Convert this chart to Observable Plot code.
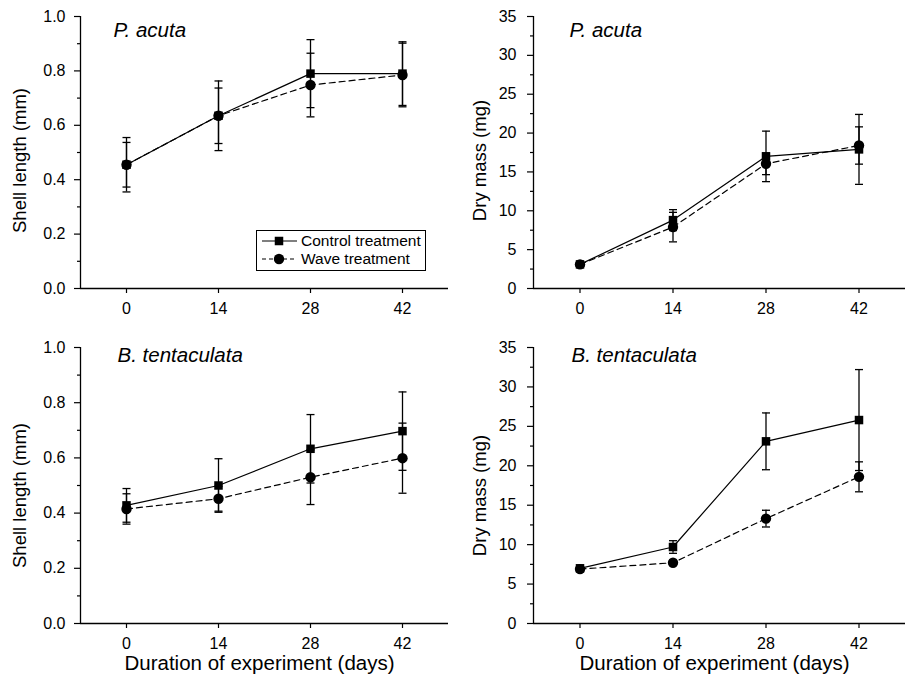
<!DOCTYPE html>
<html>
<head>
<meta charset="utf-8">
<script src="https://cdn.jsdelivr.net/npm/d3@7"></script>
<script src="https://cdn.jsdelivr.net/npm/@observablehq/plot@0.6"></script>
<style>
  body { margin: 0; background: #fff; }
  #chart { position: relative; width: 905px; height: 685px; background: #fff;
           font-family: "Liberation Sans", Arial, sans-serif; overflow: hidden; }
  .panel { position: absolute; }
  #legend { position: absolute; border: 1px solid #000; background: #fff; box-sizing: border-box; }
</style>
</head>
<body>
<div id="chart"></div>
<script>
// ---------- data ----------
const days = [0, 14, 28, 42];
const seriesLabels = ["Control treatment", "Wave treatment"];
const speciesTitles = ["P. acuta", "B. tentaculata"];
const yLabels = ["Shell length (mm)", "Dry mass (mg)"];
const xLabel = "Duration of experiment (days)";

// P. acuta – shell length (mm)
const paShellControl   = [0.455, 0.635, 0.790, 0.790];
const paShellControlSE = [0.100, 0.128, 0.125, 0.117];
const paShellWave      = [0.455, 0.635, 0.748, 0.785];
const paShellWaveSE    = [0.082, 0.102, 0.117, 0.117];

// P. acuta – dry mass (mg)
const paMassControl    = [3.1, 8.8, 17.0, 17.9];
const paMassControlSE  = [0.3, 1.35, 3.25, 4.5];
const paMassWave       = [3.1, 7.9, 16.05, 18.4];
const paMassWaveSE     = [0.3, 1.9, 1.4, 2.4];

// B. tentaculata – shell length (mm)
const btShellControl   = [0.428, 0.500, 0.633, 0.697];
const btShellControlSE = [0.061, 0.097, 0.124, 0.142];
const btShellWave      = [0.415, 0.452, 0.530, 0.599];
const btShellWaveSE    = [0.055, 0.045, 0.099, 0.127];

// B. tentaculata – dry mass (mg)
const btMassControl    = [7.0, 9.7, 23.1, 25.8];
const btMassControlSE  = [0.35, 0.8, 3.6, 6.4];
const btMassWave       = [6.9, 7.7, 13.3, 18.6];
const btMassWaveSE     = [0.3, 0.3, 1.06, 1.9];

// axis ticks
const xDomain = [-7, 49];
const shellMajor = [0, 0.2, 0.4, 0.6, 0.8, 1.0];
const shellMinor = [0.1, 0.3, 0.5, 0.7, 0.9];
const massMajor = [0, 5, 10, 15, 20, 25, 30, 35];
const massMinor = [2.5, 7.5, 12.5, 17.5, 22.5, 27.5, 32.5];

// ---------- drawing ----------
const chart = document.getElementById("chart");
const capSymbol = {
  draw(ctx, size) {
    const w = Math.sqrt(size / Math.PI);
    ctx.moveTo(-w, 0);
    ctx.lineTo(w, 0);
  }
};

function rows(m, se) {
  return days.map((d, i) => ({ day: d, m: m[i], se: se[i] }));
}
function caps(data) {
  return data.flatMap(d => [{ day: d.day, y: d.m + d.se }, { day: d.day, y: d.m - d.se }]);
}

function panel(o) {
  const ctrl = rows(o.cM, o.cSE);
  const wave = rows(o.wM, o.wSE);
  const marks = [
    // error bars
    Plot.ruleX(ctrl, { x: "day", y1: d => d.m - d.se, y2: d => d.m + d.se, stroke: "#000", strokeWidth: 1.3 }),
    Plot.ruleX(wave, { x: "day", y1: d => d.m - d.se, y2: d => d.m + d.se, stroke: "#000", strokeWidth: 1.3 }),
    Plot.dot(caps(ctrl), { x: "day", y: "y", symbol: capSymbol, r: 4, stroke: "#000", fill: "none", strokeWidth: 1.3 }),
    Plot.dot(caps(wave), { x: "day", y: "y", symbol: capSymbol, r: 4, stroke: "#000", fill: "none", strokeWidth: 1.3 }),
    // lines
    Plot.line(wave, { x: "day", y: "m", stroke: "#000", strokeWidth: 1.2, strokeDasharray: "6,4" }),
    Plot.line(ctrl, { x: "day", y: "m", stroke: "#000", strokeWidth: 1.2 }),
    // markers
    Plot.dot(wave, { x: "day", y: "m", symbol: "circle", r: 5.2, fill: "#000", stroke: "none" }),
    Plot.dot(ctrl, { x: "day", y: "m", symbol: "square", r: 4.8, fill: "#000", stroke: "none" }),
    // axes
    Plot.ruleY([o.yDomain[0]], { stroke: "#000", strokeWidth: 1.3 }),
    Plot.ruleX([xDomain[0]], { stroke: "#000", strokeWidth: 1.3 }),
    Plot.axisX({ ticks: days, tickSize: 5, tickPadding: 9, tickFormat: d => String(d), label: null, strokeWidth: 1.2, fontSize: 16 }),
    Plot.axisY({ ticks: o.yMajor, tickSize: 6, tickPadding: o.yPad, tickFormat: o.yFormat, label: null, strokeWidth: 1.2, fontSize: 16 }),
    Plot.axisY({ ticks: o.yMinor, tickSize: 3, tickFormat: () => "", label: null, strokeWidth: 1.2 }),
    // panel title
    Plot.text([o.title], { text: d => d, frameAnchor: "top-left", textAnchor: "start", lineAnchor: "middle",
      dx: o.titleDx, dy: o.titleDy, fontSize: 20.5, fontStyle: "italic", fill: "#000" }),
    // y label
    Plot.text([o.yLabel], { text: d => d, frameAnchor: "left", rotate: -90, textAnchor: "middle", lineAnchor: "middle",
      dx: o.yLabelDx, dy: o.yLabelDy, fontSize: 18.5, fill: "#000" })
  ];
  if (o.showXLabel) {
    marks.push(Plot.text([xLabel], { text: d => d, frameAnchor: "bottom", textAnchor: "middle", lineAnchor: "middle",
      dx: -5, dy: 40, fontSize: 20.5, fill: "#000" }));
  }
  const svg = Plot.plot({
    width: o.width, height: o.height,
    marginLeft: o.ml, marginRight: o.mr, marginTop: o.mt, marginBottom: o.mb,
    x: { domain: xDomain, label: null },
    y: { domain: o.yDomain, label: null },
    style: { fontFamily: "'Liberation Sans', Arial, sans-serif", fontSize: "16px", color: "#000", background: "transparent", overflow: "visible" },
    marks
  });
  const wrap = document.createElement("div");
  wrap.className = "panel";
  wrap.style.left = o.left + "px";
  wrap.style.top = o.top + "px";
  wrap.appendChild(svg);
  chart.appendChild(wrap);
}

const fmt1 = d3.format(".1f");
const fmt0 = d => String(d);

panel({ left: 0, top: 0, width: 452, height: 330, ml: 80, mr: 4, mt: 16, mb: 42,
  yDomain: [0, 1], yMajor: shellMajor, yMinor: shellMinor, yFormat: fmt1, yPad: 9,
  cM: paShellControl, cSE: paShellControlSE, wM: paShellWave, wSE: paShellWaveSE,
  title: speciesTitles[0], titleDx: 33, titleDy: 14, yLabel: yLabels[0], yLabelDx: -60, yLabelDy: 8, showXLabel: false });

panel({ left: 453, top: 0, width: 452, height: 330, ml: 80, mr: 0, mt: 16, mb: 42,
  yDomain: [0, 35], yMajor: massMajor, yMinor: massMinor, yFormat: fmt0, yPad: 11,
  cM: paMassControl, cSE: paMassControlSE, wM: paMassWave, wSE: paMassWaveSE,
  title: speciesTitles[0], titleDx: 36, titleDy: 14, yLabel: yLabels[1], yLabelDx: -53, yLabelDy: 8, showXLabel: false });

panel({ left: 0, top: 330, width: 452, height: 355, ml: 80, mr: 4, mt: 17, mb: 62,
  yDomain: [0, 1], yMajor: shellMajor, yMinor: shellMinor, yFormat: fmt1, yPad: 9,
  cM: btShellControl, cSE: btShellControlSE, wM: btShellWave, wSE: btShellWaveSE,
  title: speciesTitles[1], titleDx: 37, titleDy: 8, yLabel: yLabels[0], yLabelDx: -60, yLabelDy: 10, showXLabel: true });

panel({ left: 453, top: 330, width: 452, height: 355, ml: 80, mr: 0, mt: 17, mb: 62,
  yDomain: [0, 35], yMajor: massMajor, yMinor: massMinor, yFormat: fmt0, yPad: 11,
  cM: btMassControl, cSE: btMassControlSE, wM: btMassWave, wSE: btMassWaveSE,
  title: speciesTitles[1], titleDx: 38, titleDy: 8, yLabel: yLabels[1], yLabelDx: -53, yLabelDy: 10, showXLabel: true });

// ---------- legend (top-left panel) ----------
const legend = document.createElement("div");
legend.id = "legend";
legend.style.left = "256px";
legend.style.top = "230px";
legend.style.width = "170px";
legend.style.height = "41px";
chart.appendChild(legend);
const lsvg = d3.select(legend).append("svg").attr("width", 168).attr("height", 39)
  .style("font-family", "'Liberation Sans', Arial, sans-serif").style("font-size", "15.5px");
const legendItems = [
  { label: seriesLabels[0], dash: null, symbol: d3.symbolSquare, size: 4.8 * 4.8 * Math.PI },
  { label: seriesLabels[1], dash: "4,3", symbol: d3.symbolCircle, size: 5.2 * 5.2 * Math.PI }
];
legendItems.forEach((it, i) => {
  const cy = 10 + i * 18;
  lsvg.append("line").attr("x1", 5).attr("x2", 40).attr("y1", cy).attr("y2", cy)
    .attr("stroke", "#000").attr("stroke-width", 1.2).attr("stroke-dasharray", it.dash);
  lsvg.append("path").attr("d", d3.symbol(it.symbol, it.size)()).attr("transform", `translate(22,${cy})`).attr("fill", "#000");
  lsvg.append("text").attr("x", 44).attr("y", cy).attr("dy", "0.35em").text(it.label);
});
</script>
</body>
</html>
